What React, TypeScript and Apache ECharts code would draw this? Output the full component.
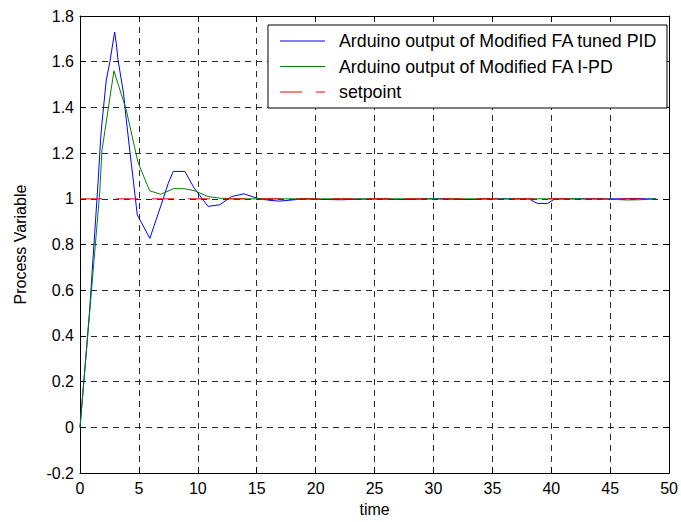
import React, { useEffect, useRef } from "react";
import * as echarts from "echarts";

// Arduino output of Modified FA tuned PID (blue)
const pidTime = [0, 0.8, 1.53, 1.75, 1.86, 2.23, 2.52, 2.94, 3.08, 3.22, 3.7, 3.92, 4.35, 4.52, 4.86, 5.23, 5.93, 7.06, 7.49, 7.91, 8.9, 9.69, 10.53, 10.87, 11.86, 12.86, 13.92, 15.0, 16.0, 16.9, 18.0, 19.0, 21.0, 22.2, 23.4, 25.0, 27.4, 28.2, 29.0, 31.0, 32.5, 33.4, 34.2, 36.0, 38.1, 38.8, 39.7, 40.3, 42.0, 44.0, 46.0, 47.0, 48.0, 48.9];
const pidValue = [0, 0.5, 1.07, 1.26, 1.33, 1.52, 1.595, 1.73, 1.68, 1.61, 1.46, 1.35, 1.155, 1.083, 0.93, 0.895, 0.827, 1.0, 1.068, 1.12, 1.12, 1.047, 0.99, 0.967, 0.974, 1.01, 1.022, 1.003, 0.994, 0.99, 0.995, 1.0, 0.997, 0.996, 0.998, 1.0, 0.997, 0.997, 1.0, 1.0, 0.997, 0.997, 1.0, 1.0, 1.0, 0.98, 0.98, 1.0, 1.0, 1.0, 1.0, 1.002, 1.0, 1.0];

// Arduino output of Modified FA I-PD (green)
const ipdTime = [0, 1.67, 1.86, 2.88, 3.92, 4.92, 5.91, 6.86, 7.97, 8.9, 9.75, 10.87, 11.86, 13.0, 15.0, 20.0, 25.0, 30.0, 35.0, 40.0, 44.0, 45.5, 46.5, 47.5, 48.9];
const ipdValue = [0, 1.025, 1.21, 1.56, 1.39, 1.16, 1.035, 1.02, 1.045, 1.044, 1.035, 1.01, 1.003, 1.0, 1.0, 1.0, 1.0, 1.0, 1.0, 1.0, 1.0, 0.997, 0.995, 0.996, 1.0];

// setpoint (red dashed)
const setpointTime = [0, 48.9];
const setpointValue = [1, 1];

const seriesNames = [
  "Arduino output of Modified FA tuned PID",
  "Arduino output of Modified FA I-PD",
  "setpoint",
];

const FONT = "'Liberation Sans', Arial, sans-serif";

const zip = (xs: number[], ys: number[]) => xs.map((x, i) => [x, ys[i]]);

export default function App() {
  const ref = useRef<HTMLDivElement>(null);
  useEffect(() => {
    if (!ref.current) return;
    const chart = echarts.init(ref.current, null, { renderer: "svg" });
    const gridColor = "#2a2a2a";
    chart.setOption({
      animation: false,
      backgroundColor: "#ffffff",
      textStyle: { fontFamily: FONT },
      grid: { left: 80, right: 11, top: 16, bottom: 44, containLabel: false },
      xAxis: [
        {
          type: "value",
          min: 0,
          max: 50,
          interval: 5,
          position: "bottom",
          name: "time",
          nameLocation: "middle",
          nameGap: 25,
          nameTextStyle: { fontSize: 16, color: "#000", fontFamily: FONT },
          axisLine: { show: true, onZero: false, lineStyle: { color: "#000", width: 1 } },
          axisTick: { show: true, inside: true, length: 6, lineStyle: { color: "#000" } },
          axisLabel: { fontSize: 16, color: "#000", margin: 7, fontFamily: FONT },
          splitLine: { show: true, lineStyle: { color: gridColor, type: [6, 5], width: 1 } },
        },
        {
          type: "value",
          min: 0,
          max: 50,
          interval: 5,
          position: "top",
          axisLine: { show: true, onZero: false, lineStyle: { color: "#000", width: 1 } },
          axisTick: { show: true, inside: true, length: 6, lineStyle: { color: "#000" } },
          axisLabel: { show: false },
          splitLine: { show: false },
        },
      ],
      yAxis: [
        {
          type: "value",
          min: -0.2,
          max: 1.8,
          interval: 0.2,
          position: "left",
          name: "Process Variable",
          nameLocation: "middle",
          nameGap: 52,
          nameTextStyle: { fontSize: 16, color: "#000", fontFamily: FONT },
          axisLine: { show: true, onZero: false, lineStyle: { color: "#000", width: 1 } },
          axisTick: { show: true, inside: true, length: 6, lineStyle: { color: "#000" } },
          axisLabel: {
            fontSize: 16,
            color: "#000",
            margin: 6,
            fontFamily: FONT,
            formatter: (v: number) => String(parseFloat(v.toFixed(1))),
          },
          splitLine: { show: true, lineStyle: { color: gridColor, type: [6, 5], width: 1 } },
        },
        {
          type: "value",
          min: -0.2,
          max: 1.8,
          interval: 0.2,
          position: "right",
          axisLine: { show: true, onZero: false, lineStyle: { color: "#000", width: 1 } },
          axisTick: { show: true, inside: true, length: 6, lineStyle: { color: "#000" } },
          axisLabel: { show: false },
          splitLine: { show: false },
        },
      ],
      graphic: [
        {
          type: "rect",
          z: 10,
          shape: { x: 268, y: 25, width: 399, height: 83 },
          style: { fill: "#ffffff", stroke: "#000000", lineWidth: 1 },
        },
      ],
      legend: {
        show: true,
        orient: "vertical",
        left: 280,
        top: 31,
        padding: 0,
        itemWidth: 45,
        itemHeight: 1,
        itemGap: 5.5,
        selectedMode: false,
        z: 20,
        textStyle: {
          fontSize: 17.8,
          lineHeight: 20,
          color: "#000",
          fontFamily: FONT,
          padding: [0, 0, 0, 9],
        },
        data: [
          { name: seriesNames[0], icon: "rect" },
          { name: seriesNames[1], icon: "rect" },
          { name: seriesNames[2], icon: "path://M0,0h22v1h-22z M36,0h9v1h-9z" },
        ],
      },
      series: [
        {
          name: seriesNames[0],
          type: "line",
          data: zip(pidTime, pidValue),
          symbol: "none",
          lineStyle: { color: "#0000ff", width: 1 },
          itemStyle: { color: "#0000ff" },
          z: 2,
        },
        {
          name: seriesNames[1],
          type: "line",
          data: zip(ipdTime, ipdValue),
          symbol: "none",
          lineStyle: { color: "#008000", width: 1 },
          itemStyle: { color: "#008000" },
          z: 3,
        },
        {
          name: seriesNames[2],
          type: "line",
          data: zip(setpointTime, setpointValue),
          symbol: "none",
          lineStyle: { color: "#ff0000", width: 1, type: [22, 14] },
          itemStyle: { color: "#ff0000" },
          z: 4,
        },
      ],
    });
    return () => chart.dispose();
  }, []);
  return <div ref={ref} style={{ width: 681, height: 522, position: "absolute", left: 0, top: 0 }} />;
}
